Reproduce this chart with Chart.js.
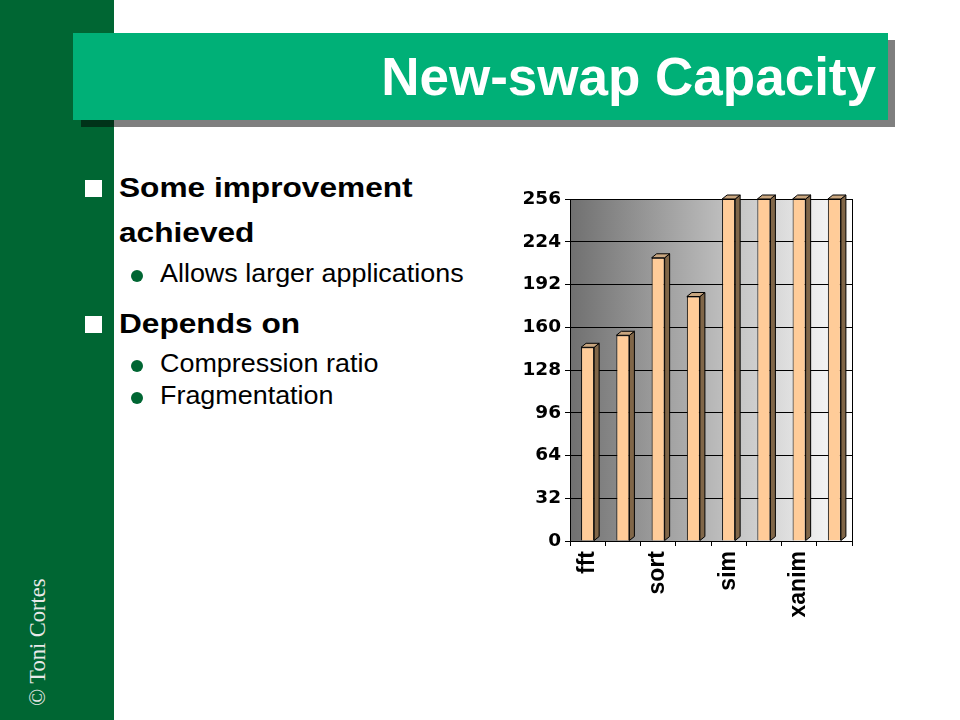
<!DOCTYPE html>
<html>
<head>
<meta charset="utf-8">
<script src="https://cdn.jsdelivr.net/npm/chart.js@4/dist/chart.umd.min.js"></script>
<style>
  html, body { margin: 0; padding: 0; }
  body { width: 960px; height: 720px; position: relative; background: #ffffff; overflow: hidden; font-family: "Liberation Sans", Arial, sans-serif; }
  .abs { position: absolute; }
  #sidebar { left: 0; top: 0; width: 114px; height: 720px; background: #006633; }
  #shadow { left: 81px; top: 40px; width: 814px; height: 87px; background: rgba(0,0,0,0.5); }
  #banner { left: 73px; top: 33px; width: 815px; height: 87px; background: #00B077; }
  #title { right: 84px; top: 50px; font-size: 53px; line-height: 53px; font-weight: bold; color: #ffffff; white-space: nowrap; }
  .b1 { left: 119px; font-size: 28px; line-height: 28px; font-weight: bold; color: #000; white-space: nowrap; transform: scaleX(1.13); transform-origin: left top; }
  .b2 { left: 160px; font-size: 26px; line-height: 26px; color: #000; white-space: nowrap; transform: scaleX(1.035); transform-origin: left top; }
  .sq { left: 85px; width: 17px; height: 17px; background: #ffffff; }
  .dot { left: 131px; width: 12px; height: 12px; border-radius: 50%; background: #006633; }
  #copy { left: 27px; top: 706px; font-family: "Liberation Serif", "Times New Roman", serif; font-size: 22.5px; line-height: 22.5px; color: #e8e8e8; white-space: nowrap; transform: rotate(-90deg); transform-origin: left top; }
  #chartbox { left: 480px; top: 170px; width: 400px; height: 460px; }
</style>
</head>
<body>
<div id="sidebar" class="abs"></div>
<div id="shadow" class="abs"></div>
<div id="banner" class="abs"></div>
<div id="title" class="abs">New-swap Capacity</div>

<div class="abs sq" style="top:180px"></div>
<div class="abs b1" style="top:174px">Some improvement</div>
<div class="abs b1" style="top:219px">achieved</div>
<div class="abs dot" style="top:270px"></div>
<div class="abs b2" style="top:260px">Allows larger applications</div>

<div class="abs sq" style="top:316px"></div>
<div class="abs b1" style="top:310px">Depends on</div>
<div class="abs dot" style="top:360px"></div>
<div class="abs b2" style="top:350px">Compression ratio</div>
<div class="abs dot" style="top:392px"></div>
<div class="abs b2" style="top:382px">Fragmentation</div>

<div id="copy" class="abs">© Toni Cortes</div>

<div id="chartbox" class="abs"><canvas id="c" width="400" height="460"></canvas></div>

<script>
// ---- data ----
const categories = ['fft', '', 'sort', '', 'sim', '', 'xanim', ''];
const capacityValues = [145, 154, 212, 183, 256, 256, 256, 256];
const yTickValues = [0, 32, 64, 96, 128, 160, 192, 224, 256];

const backgroundPlugin = {
  id: 'plotBackground',
  beforeDraw(chart) {
    const { ctx, chartArea: a } = chart;
    const g = ctx.createLinearGradient(a.left, 0, a.right, 0);
    g.addColorStop(0, '#707070');
    g.addColorStop(1, '#ffffff');
    ctx.save();
    ctx.fillStyle = g;
    ctx.fillRect(a.left, a.top, a.right - a.left, a.bottom - a.top);
    ctx.restore();
  },
  afterDraw(chart) {
    const { ctx, chartArea: a } = chart;
    ctx.save();
    ctx.strokeStyle = '#000';
    ctx.lineWidth = 1;
    ctx.beginPath();
    ctx.moveTo(Math.round(a.right) + 0.5, a.top);
    ctx.lineTo(Math.round(a.right) + 0.5, a.bottom);
    ctx.stroke();
    ctx.restore();
  }
};

const bar3dPlugin = {
  id: 'bar3d',
  afterDatasetsDraw(chart) {
    const { ctx } = chart;
    const meta = chart.getDatasetMeta(0);
    const dx = 5, dy = 4;
    ctx.save();
    ctx.lineWidth = 1;
    ctx.strokeStyle = '#000';
    meta.data.forEach((bar) => {
      const p = bar.getProps(['x', 'y', 'base', 'width'], true);
      const l = p.x - p.width / 2, r = p.x + p.width / 2, t = p.y, b = p.base;
      // side
      ctx.fillStyle = '#806648';
      ctx.beginPath();
      ctx.moveTo(r, t); ctx.lineTo(r + dx, t - dy); ctx.lineTo(r + dx, b - dy); ctx.lineTo(r, b); ctx.closePath();
      ctx.fill(); ctx.stroke();
      // top
      ctx.fillStyle = '#c9a67f';
      ctx.beginPath();
      ctx.moveTo(l, t); ctx.lineTo(l + dx, t - dy); ctx.lineTo(r + dx, t - dy); ctx.lineTo(r, t); ctx.closePath();
      ctx.fill(); ctx.stroke();
    });
    ctx.restore();
  }
};

new Chart(document.getElementById('c'), {
  type: 'bar',
  data: {
    labels: categories,
    datasets: [{
      data: capacityValues,
      backgroundColor: '#FFCC99',
      borderColor: '#000000',
      borderWidth: 1,
      barPercentage: 0.37,
      categoryPercentage: 1.0
    }]
  },
  options: {
    responsive: false,
    animation: false,
    devicePixelRatio: 1,
    layout: { padding: { top: 29, right: 28, left: 0, bottom: 0 } },
    plugins: { legend: { display: false }, tooltip: { enabled: false } },
    scales: {
      x: {
        afterFit(scale) { scale.height = 89; },
        grid: { display: true, drawOnChartArea: false, offset: true, tickLength: 5, color: '#000' },
        border: { display: true, color: '#000', width: 1 },
        ticks: {
          autoSkip: false, maxRotation: 90, minRotation: 90, padding: 5, color: '#000',
          font: { family: 'Liberation Sans', size: 23, weight: 'bold' }
        }
      },
      y: {
        min: 0, max: 256,
        afterFit(scale) { scale.width = 90; },
        afterBuildTicks(scale) { scale.ticks = yTickValues.map(v => ({ value: v })); },
        grid: { color: '#000', lineWidth: 1, tickLength: 5 },
        border: { display: true, color: '#000', width: 1 },
        ticks: {
          padding: 4, color: '#000',
          font: { family: 'DejaVu Sans', size: 18.5, weight: 'bold' }
        }
      }
    }
  },
  plugins: [backgroundPlugin, bar3dPlugin]
});
</script>
</body>
</html>
